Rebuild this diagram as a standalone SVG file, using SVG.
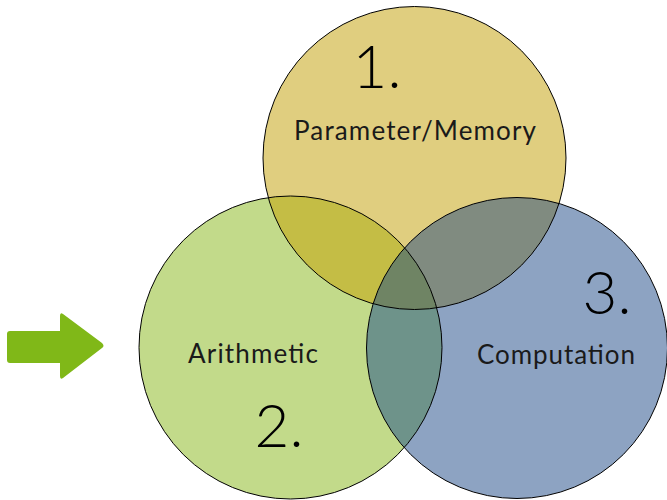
<svg xmlns="http://www.w3.org/2000/svg" width="667" height="500" viewBox="0 0 667 500">
<style>
.lbl{font-family:Lato,"Open Sans","DejaVu Sans",sans-serif;font-size:26px;font-weight:400;fill:#1a1a1a}
.num{font-family:Lato,"DejaVu Sans",sans-serif;font-size:60px;font-weight:300;fill:#000;text-anchor:middle}
.edge{fill:none;stroke:#000;stroke-width:1}
</style>
<defs>
<clipPath id="cT"><circle cx="414.5" cy="158" r="151.5"/></clipPath>
<clipPath id="cL"><circle cx="290.5" cy="347.5" r="151.5"/></clipPath>
<clipPath id="cR"><circle cx="517" cy="348" r="150.5"/></clipPath>
</defs>
<rect width="667" height="500" fill="#fff"/>
<g id="arrow">
<path d="M10,331 H60 V316 Q60,312 63,314 L102,343 Q105,346 102,348 L63,378 Q60,380 60,376 V363 H10 Q7,363 7,360 V334 Q7,331 10,331 Z" fill="#80B818"/>
</g>
<g id="fills">
<circle cx="414.5" cy="158" r="151.5" fill="#E0CE7F"/>
<circle cx="290.5" cy="347.5" r="151.5" fill="#C2DA8A"/>
<circle cx="517" cy="348" r="150.5" fill="#8DA3C2"/>
<g clip-path="url(#cT)"><circle cx="290.5" cy="347.5" r="151.5" fill="#C4BD45"/><circle cx="517" cy="348" r="150.5" fill="#808B80"/></g>
<g clip-path="url(#cL)"><circle cx="517" cy="348" r="150.5" fill="#6E938A"/></g>
<g clip-path="url(#cT)"><g clip-path="url(#cL)"><circle cx="517" cy="348" r="150.5" fill="#6F8464"/></g></g>
</g>
<g id="node1">
<circle class="edge" cx="414.5" cy="158" r="151.5"/>
<text class="num" x="377" y="88">1.</text>
<text class="lbl" x="294" y="140" textLength="242" lengthAdjust="spacing">Parameter/Memory</text>
</g>
<g id="node2">
<circle class="edge" cx="290.5" cy="347.5" r="151.5"/>
<text class="lbl" x="188" y="363" textLength="130" lengthAdjust="spacing">Arithmetic</text>
<text class="num" x="279" y="447">2.</text>
</g>
<g id="node3">
<circle class="edge" cx="517" cy="348" r="150.5"/>
<text class="num" x="607" y="314">3.</text>
<text class="lbl" x="477" y="364" textLength="158" lengthAdjust="spacing">Computation</text>
</g>
</svg>
